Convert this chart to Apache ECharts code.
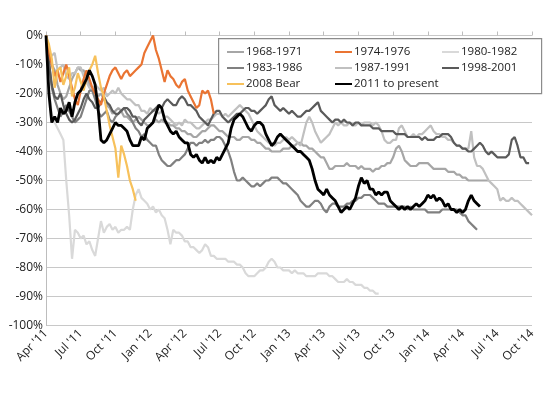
<!DOCTYPE html>
<html>
<head>
<meta charset="utf-8">
<script src="https://cdn.jsdelivr.net/npm/echarts@6/dist/echarts.min.js"></script>
<style>
html, body { margin: 0; padding: 0; background: #fff; }
#chart { width: 550px; height: 399px; }
</style>
</head>
<body>
<div id="chart"></div>
<script>
// x steps are quarter months counted from Apr '11, values are % drawdown from peak
var tickLabels = ["Apr '11", "Jul '11", "Oct '11", "Jan '12", "Apr '12", "Jul '12", "Oct '12",
  "Jan '13", "Apr '13", "Jul '13", "Oct '13", "Jan '14", "Apr '14", "Jul '14", "Oct '14"];

var bear1968 = [0,-6,-10,-12,-17,-20,-22,-21,-18,-15,
  -13,-11,-12,-12,-14,-17,-18,-20,-21,-20,
  -22,-24,-25,-27,-26,-25,-26,-28,-28,-29,
  -30,-29,-28,-29,-30,-31,-31,-30,-29,-30,
  -29,-30,-30,-31,-31,-32,-32,-33,-33,-34,
  -34,-35,-35,-34,-33,-33,-32,-31,-31,-32,
  -33,-33,-34,-35,-35,-35,-36,-36,-35,-35,
  -35,-36,-36,-37,-37,-38,-39,-39,-40,-40,
  -40,-40,-39,-39,-39,-38,-38,-37,-37,-38,
  -38,-39,-39,-40,-41,-42,-42,-44,-46,-46,
  -45,-45,-45,-45,-44,-45,-45,-45,-46,-45,
  -46,-46,-46,-47,-46,-46,-45,-45,-44,-44,
  -42,-39,-38,-40,-43,-44,-45,-45,-45,-44,
  -44,-44,-44,-45,-46,-46,-46,-46,-46,-47,
  -47,-47,-48,-48,-49,-49,-50,-50,-50,-50,
  -50,-50,-50,-50];

var bear1974 = [0,-6,-10,-14,-12,-16,-13,-10,-14,-18,
  -22,-24,-19,-15,-12,-15,-18,-20,-22,-24,
  -20,-17,-14,-12,-11,-13,-15,-13,-12,-14,
  -13,-12,-11,-10,-6,-4,-2,0,-5,-8,
  -12,-16,-12,-14,-15,-17,-18,-16,-15,-19,
  -21,-23,-25,-24,-19,-20,-19,-22,-27];

var bear1980 = [0,-18,-27,-30,-32,-34,-36,-50,-62,-77,
  -67,-68,-70,-69,-72,-71,-74,-76,-70,-64,
  -68,-66,-65,-67,-66,-68,-67,-67,-66,-67,
  -60,-55,-53,-56,-57,-58,-60,-59,-61,-60,
  -62,-63,-67,-72,-67,-68,-68,-69,-71,-71,
  -73,-73,-74,-75,-74,-72,-73,-76,-76,-77,
  -77,-77,-77,-78,-78,-78,-79,-79,-80,-82,
  -83,-83,-83,-82,-81,-81,-80,-78,-77,-78,
  -80,-80,-81,-81,-81,-82,-81,-82,-82,-82,
  -83,-83,-83,-83,-82,-82,-82,-82,-83,-83,
  -84,-85,-85,-85,-84,-85,-85,-86,-86,-86,
  -87,-87,-88,-88,-89,-89];

var bear1983 = [0,-9,-18,-22,-25,-28,-26,-24,-26,-28,
  -30,-29,-28,-25,-22,-19,-19,-22,-26,-28,
  -27,-26,-29,-30,-28,-27,-26,-25,-27,-28,
  -30,-32,-33,-35,-34,-36,-37,-38,-38,-41,
  -43,-44,-45,-45,-44,-43,-43,-42,-41,-39,
  -37,-37,-38,-37,-37,-36,-37,-36,-36,-35,
  -35,-36,-38,-40,-43,-47,-50,-50,-49,-50,
  -51,-52,-52,-51,-52,-51,-50,-50,-49,-49,
  -49,-50,-51,-51,-52,-53,-54,-55,-57,-58,
  -59,-59,-58,-57,-57,-58,-60,-61,-59,-58,
  -58,-59,-59,-59,-58,-58,-57,-57,-56,-56,
  -55,-55,-55,-56,-57,-58,-58,-58,-59,-59,
  -59,-59,-59,-59,-59,-60,-59,-60,-60,-60,
  -60,-60,-61,-61,-61,-61,-61,-60,-60,-60,
  -60,-60,-60,-61,-62,-62,-64,-65,-66,-67];

var bear1987 = [0,-6,-7,-6,-12,-11,-10,-14,-15,-13,
  -13,-11,-11,-14,-16,-18,-19,-17,-18,-19,
  -18,-21,-20,-19,-20,-18,-20,-21,-22,-22,
  -23,-24,-24,-26,-26,-27,-25,-26,-26,-27,
  -26,-28,-28,-29,-30,-31,-30,-31,-29,-30,
  -30,-31,-32,-32,-31,-30,-29,-29,-28,-27,
  -27,-28,-27,-28,-27,-26,-25,-24,-25,-26,
  -27,-29,-31,-33,-34,-35,-36,-37,-37,-38,
  -37,-37,-36,-35,-36,-35,-36,-37,-38,-34,
  -30,-28,-30,-33,-35,-37,-36,-35,-34,-32,
  -30,-31,-30,-31,-31,-30,-31,-31,-30,-31,
  -30,-30,-30,-31,-30,-31,-33,-36,-37,-37,
  -36,-36,-32,-31,-33,-35,-35,-34,-35,-34,
  -34,-33,-32,-31,-33,-34,-34,-35,-35,-36,
  -36,-37,-38,-38,-39,-39,-39,-33,-42,-45,
  -45,-46,-48,-50,-51,-52,-53,-57,-56,-57,
  -57,-56,-57,-57,-58,-59,-60,-61,-62];

var bear1998 = [0,-9,-17,-21,-22,-20,-24,-27,-29,-30,
  -29,-27,-25,-22,-20,-22,-23,-25,-25,-23,
  -21,-23,-24,-26,-27,-27,-26,-25,-25,-26,
  -28,-28,-30,-31,-29,-28,-27,-26,-25,-24,
  -25,-23,-22,-23,-24,-24,-22,-21,-22,-24,
  -24,-25,-26,-28,-29,-30,-31,-29,-27,-26,
  -26,-28,-29,-30,-29,-28,-27,-27,-26,-25,
  -25,-26,-26,-27,-26,-25,-24,-22,-21,-24,
  -25,-26,-25,-26,-27,-26,-27,-28,-28,-27,
  -26,-26,-25,-24,-23,-26,-27,-28,-29,-30,
  -29,-29,-30,-29,-30,-30,-31,-30,-30,-31,
  -31,-31,-31,-32,-32,-32,-33,-33,-33,-33,
  -33,-34,-34,-34,-34,-35,-35,-35,-35,-35,
  -36,-35,-36,-36,-36,-35,-35,-34,-34,-34,
  -35,-37,-38,-38,-39,-39,-40,-40,-39,-38,
  -37,-38,-40,-41,-40,-41,-42,-42,-42,-42,
  -41,-36,-35,-38,-42,-42,-44,-44];

var bear2008 = [0,-3,-8,-18,-12,-11,-17,-14,-11,-21,
  -18,-13,-16,-19,-15,-12,-10,-7,-13,-18,
  -21,-26,-31,-35,-39,-49,-38,-41,-45,-50,
  -53,-57];

var bear2011 = [0,-20,-30,-28,-30,-25,-27,-26,-23,-28,
  -23,-20,-19,-17,-15,-12,-14,-17,-25,-36,
  -37,-36,-34,-32,-30,-31,-31,-32,-33,-36,
  -38,-38,-38,-35,-36,-32,-31,-30,-27,-24,
  -25,-29,-31,-33,-34,-33,-35,-36,-37,-37,
  -41,-42,-41,-43,-44,-42,-44,-43,-44,-42,
  -43,-41,-39,-37,-32,-29,-28,-27,-28,-30,
  -32,-33,-31,-30,-30,-31,-34,-36,-38,-37,
  -35,-34,-35,-36,-37,-38,-39,-40,-40,-41,
  -42,-43,-46,-50,-53,-54,-55,-53,-55,-56,
  -57,-59,-61,-60,-59,-60,-58,-56,-52,-49,
  -51,-50,-53,-53,-55,-54,-55,-54,-54,-57,
  -58,-59,-60,-59,-60,-59,-60,-59,-58,-59,
  -58,-57,-55,-56,-55,-57,-56,-57,-59,-58,
  -60,-60,-61,-60,-61,-60,-57,-55,-57,-58,
  -59];

var chart = echarts.init(document.getElementById('chart'));
var font = 'Open Sans';

function line(name, vals, color, width) {
  return {
    name: name,
    type: 'line',
    data: vals.map(function (v, i) { return [i, v]; }),
    showSymbol: false,
    symbol: 'none',
    lineStyle: { color: color, width: width },
    itemStyle: { color: color },
    animation: false
  };
}

function legendCol(left, names) {
  return {
    orient: 'vertical',
    left: left,
    top: 41,
    itemWidth: 17,
    itemHeight: 2,
    itemGap: 4,
    icon: 'rect',
    z: 20,
    textStyle: { fontFamily: font, fontSize: 11.5, color: '#222', padding: [0, 0, 0, -3] },
    data: names
  };
}

chart.setOption({
  backgroundColor: '#fff',
  grid: { left: 46, right: 18, top: 35.5, bottom: 73.5 },
  xAxis: [{
    type: 'value',
    min: 0,
    max: 168,
    interval: 12,
    position: 'bottom',
    axisLine: { show: false },
    axisTick: { show: false },
    splitLine: { show: false },
    axisLabel: {
      rotate: 45,
      margin: 6,
      fontFamily: font,
      fontSize: 12,
      color: '#222',
      formatter: function (v) { return tickLabels[Math.round(v / 12)]; }
    }
  }, {
    type: 'value',
    min: 0,
    max: 168,
    interval: 12,
    position: 'top',
    axisLine: { show: false },
    axisTick: { show: true, length: 4, lineStyle: { color: '#bdbdbd' } },
    splitLine: { show: false },
    axisLabel: { show: false }
  }],
  yAxis: {
    type: 'value',
    min: -100,
    max: 0,
    interval: 10,
    axisLine: { show: true, lineStyle: { color: '#bdbdbd' } },
    axisTick: { show: false },
    splitLine: { lineStyle: { color: '#c8c8c8', width: 1 } },
    axisLabel: { fontFamily: font, fontSize: 12, color: '#222', margin: 3, formatter: '{value}%' }
  },
  legend: [
    legendCol(222, ['1968-1971', '1983-1986', '2008 Bear']),
    legendCol(330, ['1974-1976', '1987-1991', '2011 to present']),
    legendCol(437, ['1980-1982', '1998-2001'])
  ],
  graphic: [{
    type: 'rect',
    left: 218,
    top: 38,
    z: 10,
    shape: { width: 323, height: 55 },
    style: { fill: '#fff', stroke: '#8c8c8c', lineWidth: 1.2 }
  }],
  series: [
    line('1980-1982', bear1980, '#d9d9d9', 2.2),
    line('1968-1971', bear1968, '#a6a6a6', 2.2),
    line('1987-1991', bear1987, '#c0c0c0', 2.2),
    line('1983-1986', bear1983, '#808080', 2.2),
    line('1998-2001', bear1998, '#5a5a5a', 2.2),
    line('1974-1976', bear1974, '#ea7432', 2.2),
    line('2008 Bear', bear2008, '#f7c15b', 2.2),
    line('2011 to present', bear2011, '#000000', 2.8)
  ]
});
</script>
</body>
</html>
